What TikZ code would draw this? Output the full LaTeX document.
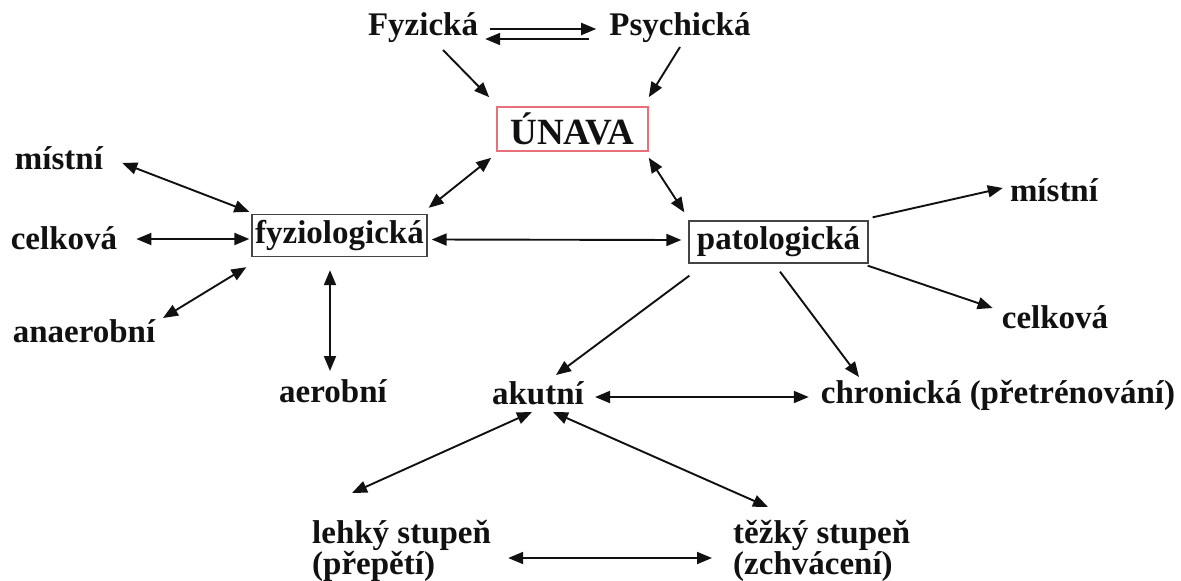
\documentclass[tikz,border=0pt]{standalone}
\usepackage{fontspec}
\setmainfont{Liberation Serif}
\usetikzlibrary{arrows.meta,calc}
\definecolor{ink}{HTML}{111111}
\definecolor{boxgray}{HTML}{444444}
\definecolor{accentred}{HTML}{E8707A}
\tikzset{
  labeltxt/.style={font=\fontsize{33}{30}\selectfont\bfseries,inner sep=2pt,text=ink},
  catbox/.style={draw=boxgray,line width=1.3pt,inner sep=3pt,minimum height=42pt,
                 font=\fontsize{33}{30}\selectfont\bfseries,text=ink},
  mainbox/.style={draw=accentred,line width=1.6pt,minimum width=151pt,minimum height=44pt,
                  inner sep=2pt,font=\fontsize{37}{40}\selectfont\bfseries,text=ink},
  monoarr/.style={-{Triangle[length=15pt,width=12pt]},line width=1.9pt,color=ink},
  duoarr/.style={{Triangle[length=15pt,width=12pt]}-{Triangle[length=15pt,width=12pt]},
                 line width=1.9pt,color=ink}
}
\begin{document}
\begin{tikzpicture}[x=1pt,y=-1pt]
  \useasboundingbox (0,0) rectangle (1181,581);
  % top
  \node[labeltxt] (fyzicka) at (423,28) {Fyzická};
  \node[labeltxt] (psychicka) at (680,28) {Psychická};
  \node[mainbox] (unava) at (572.5,129) {ÚNAVA};
  % middle row
  \node[catbox,minimum width=175pt] (fyzio) at (339.5,235.5) {fyziologická};
  \node[catbox,minimum width=179pt] (pato) at (778.5,242) {patologická};
  % left side
  \node[labeltxt] (misL) at (59,158) {místní};
  \node[labeltxt] (celL) at (64,238) {celková};
  \node[labeltxt] (anaer) at (84,331) {anaerobní};
  \node[labeltxt] (aerob) at (333,391) {aerobní};
  % right side
  \node[labeltxt] (misR) at (1054,190) {místní};
  \node[labeltxt] (celR) at (1055,317) {celková};
  \node[labeltxt] (akut) at (538,393) {akutní};
  \node[labeltxt] (chron) at (998,395) {chronická (přetrénování)};
  % bottom
  \node[labeltxt,align=left,anchor=west] (lehky) at (310,551) {lehký stupeň\\(přepětí)};
  \node[labeltxt,align=left,anchor=west] (tezky) at (731,551) {těžký stupeň\\(zchvácení)};

  % connectors
  \draw[monoarr] ($(fyzicka.east)+(10,1)$) -- ($(psychicka.west)+(-11,1)$);
  \draw[monoarr] ($(psychicka.west)+(-18,11)$) -- ($(fyzicka.east)+(5,11)$);
  \draw[monoarr] ($(fyzicka)+(20,22)$) -- ($(unava.north west)+(-7,-9)$);
  \draw[monoarr] ($(psychicka)+(0,19)$) -- ($(unava.north east)+(0,-9)$);
  \draw[duoarr] ($(unava.south west)+(-5,6)$) -- ($(fyzio.north east)+(1,-6)$);
  \draw[duoarr] ($(unava.south east)+(0,6)$) -- ($(pato.north west)+(-4,-8)$);
  \draw[duoarr] ($(fyzio.east)+(4,4)$) -- ($(pato.west)+(-7,-2)$);
  \draw[duoarr] ($(misL.east)+(17,5)$) -- ($(fyzio.north west)+(-2,-2)$);
  \draw[duoarr] ($(celL.east)+(17,1)$) -- ($(fyzio.west)+(-2,3.5)$);
  \draw[duoarr] ($(anaer)+(79,-13)$) -- ($(fyzio.south west)+(-5,10)$);
  \draw[duoarr] ($(fyzio.south)+(-9.5,13)$) -- ($(aerob)+(-3,-20)$);
  \draw[monoarr] ($(pato.north east)+(4,-3)$) -- ($(misR.west)+(-5,-2)$);
  \draw[monoarr] ($(pato.south east)+(-1,2)$) -- ($(celR.west)+(-7,-9)$);
  \draw[monoarr] ($(pato.south)+(1.5,8)$) -- ($(chron)+(-139,-18)$);
  \draw[monoarr] ($(pato.south west)+(1,12)$) -- ($(akut)+(18,-18)$);
  \draw[duoarr] ($(akut.east)+(9,4)$) -- ($(chron.west)+(-10,2)$);
  \draw[duoarr] ($(akut)+(-6,19)$) -- ($(lehky.west)+(42,-58)$);
  \draw[duoarr] ($(akut)+(15,19)$) -- ($(tezky.west)+(37,-44)$);
  \draw[duoarr] ($(lehky.east)+(15,7)$) -- ($(tezky.west)+(-19,7)$);
\end{tikzpicture}
\end{document}
